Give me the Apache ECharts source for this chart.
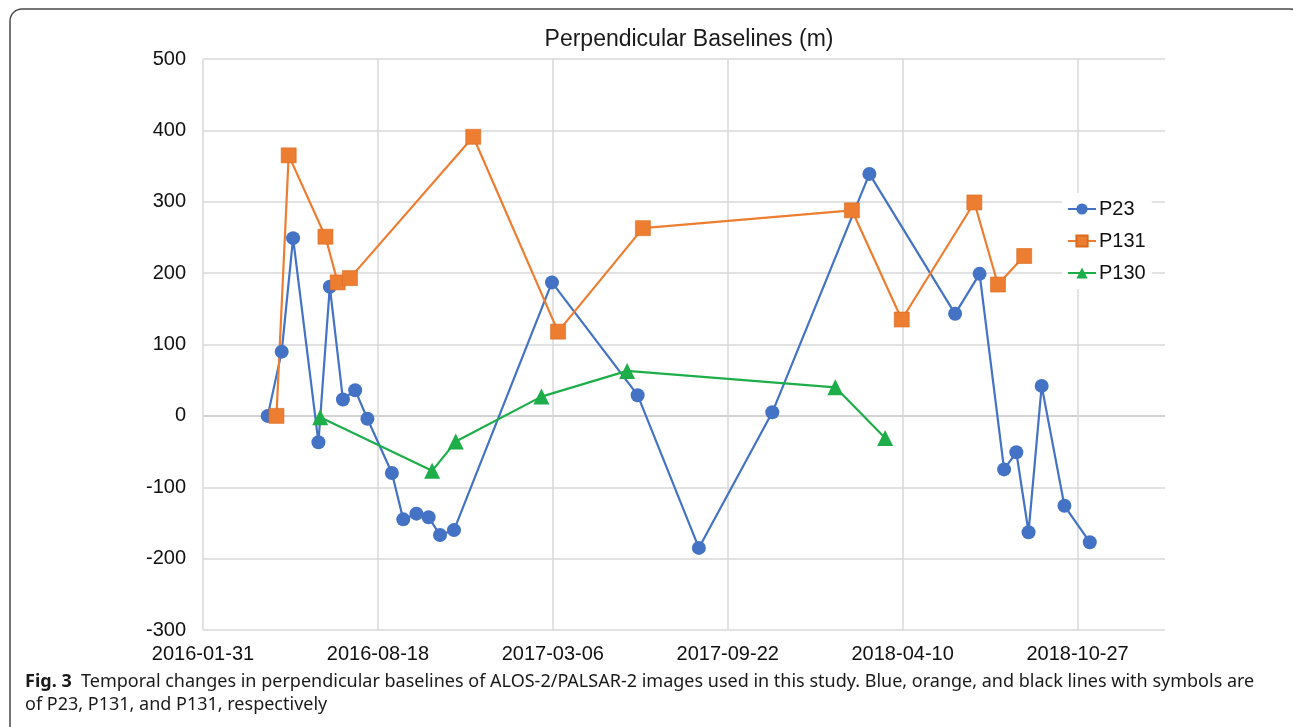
<!DOCTYPE html>
<html>
<head>
<meta charset="utf-8">
<script src="https://cdn.jsdelivr.net/npm/echarts@6/dist/echarts.min.js"></script>
<style>
  html, body { margin: 0; padding: 0; background: #fff; }
  #chart { width: 1293px; height: 727px; }
</style>
</head>
<body>
<div id="chart"></div>
<script>
// acquisition dates and perpendicular baselines (m)
const p23Dates = ['2016-04-14', '2016-04-30', '2016-05-13', '2016-06-11', '2016-06-24', '2016-07-09',
  '2016-07-23', '2016-08-06', '2016-09-03', '2016-09-16', '2016-10-01', '2016-10-15', '2016-10-28',
  '2016-11-13', '2017-03-05', '2017-06-11', '2017-08-20', '2017-11-12', '2018-03-03', '2018-06-09',
  '2018-07-07', '2018-08-04', '2018-08-18', '2018-09-01', '2018-09-16', '2018-10-12', '2018-11-10']
const p23Values = [0, 90, 249, -37, 181, 23, 36, -4, -80, -145, -137, -142, -167, -160, 187, 29, -185, 5,
  339, 143, 199, -75, -51, -163, 42, -126, -177]

const p131Dates = ['2016-04-24', '2016-05-08', '2016-06-19', '2016-07-03', '2016-07-17', '2016-12-05',
  '2017-03-12', '2017-06-17', '2018-02-11', '2018-04-09', '2018-07-01', '2018-07-28', '2018-08-27']
const p131Values = [0, 365, 251, 187, 193, 391, 118, 263, 288, 135, 299, 184, 224]

const p130Dates = ['2016-06-13', '2016-10-19', '2016-11-15', '2017-02-21', '2017-05-30', '2018-01-23', '2018-03-21']
const p130Values = [-2, -77, -36, 27, 63, 40, -31]

// x axis runs in days counted from the first tick date
const startDate = '2016-01-31'
const xTickStep = 200
const xMaxDays = 1100
const yTicks = [-300, -200, -100, 0, 100, 200, 300, 400, 500]

const DAY = 86400000
function toUTC(s) {
  const p = s.split('-').map(Number)
  return Date.UTC(p[0], p[1] - 1, p[2])
}
const t0 = toUTC(startDate)
function dayOffset(s) { return Math.round((toUTC(s) - t0) / DAY) }
function dayLabel(v) {
  if (v % xTickStep !== 0) return ''
  return new Date(t0 + v * DAY).toISOString().slice(0, 10)
}
function pairs(dates, values) {
  return dates.map((d, i) => [dayOffset(d), values[i]])
}

// split line colours: last x line (axis end) hidden, zero line a bit darker
const xSplitColors = []
for (let v = 0; v <= xMaxDays; v += xTickStep) xSplitColors.push('#d9d9d9')
if (xMaxDays % xTickStep !== 0) xSplitColors.push('rgba(0,0,0,0)')
const ySplitColors = yTicks.map(v => v === 0 ? '#c4c4c4' : '#d9d9d9')

const chart = echarts.init(document.getElementById('chart'))

const font = 'Liberation Sans, Arial, sans-serif'
const capFont = 'Noto Sans, sans-serif'

const option = {
  backgroundColor: '#fff',
  animation: false,
  title: {
    text: 'Perpendicular Baselines (m)',
    left: 684,
    top: 23,
    textAlign: 'center',
    textStyle: { fontFamily: font, fontSize: 23, fontWeight: 'normal', color: '#1a1a1a' }
  },
  legend: {
    orient: 'vertical',
    left: 1062,
    top: 193,
    padding: [6, 6, 6, 5],
    itemWidth: 28,
    itemHeight: 14,
    itemGap: 12,
    backgroundColor: '#fff',
    textStyle: { fontFamily: font, fontSize: 20, color: '#111', padding: [0, 0, 0, -2] },
    data: ['P23', 'P131', 'P130']
  },
  grid: { left: 203, right: 128, top: 59, bottom: 97, containLabel: false },
  xAxis: {
    type: 'value',
    min: 0,
    max: xMaxDays,
    interval: xTickStep,
    axisLine: { show: false },
    axisTick: { show: false },
    axisLabel: {
      margin: 14,
      fontFamily: font,
      fontSize: 20,
      color: '#111',
      formatter: dayLabel
    },
    splitLine: { show: true, lineStyle: { color: xSplitColors, width: 1.5 } }
  },
  yAxis: {
    type: 'value',
    min: yTicks[0],
    max: yTicks[yTicks.length - 1],
    interval: 100,
    axisLine: { show: false },
    axisTick: { show: false },
    axisLabel: { margin: 17, fontFamily: font, fontSize: 20, color: '#111' },
    splitLine: { show: true, lineStyle: { color: ySplitColors, width: 1.5 } }
  },
  series: [
    {
      name: 'P23',
      type: 'line',
      data: pairs(p23Dates, p23Values),
      symbol: 'circle',
      symbolSize: 14,
      color: '#4472C4',
      lineStyle: { width: 2.2, color: '#4472C4' },
      itemStyle: { color: '#4472C4' }
    },
    {
      name: 'P131',
      type: 'line',
      data: pairs(p131Dates, p131Values),
      symbol: 'rect',
      symbolSize: 15,
      color: '#ED7D31',
      lineStyle: { width: 2.2, color: '#ED7D31' },
      itemStyle: { color: '#ED7D31', borderColor: '#d96a20', borderWidth: 0.6 }
    },
    {
      name: 'P130',
      type: 'line',
      data: pairs(p130Dates, p130Values),
      symbol: 'triangle',
      symbolSize: 16,
      color: '#1DAE4A',
      lineStyle: { width: 2.2, color: '#1DAE4A' },
      itemStyle: { color: '#1DAE4A' }
    }
  ],
  graphic: [
    {
      type: 'rect',
      shape: { x: 10, y: 9, width: 1292, height: 760, r: 12 },
      style: { fill: 'none', stroke: '#4a4a4a', lineWidth: 1.5 },
      silent: true,
      z: 100
    },
    {
      type: 'text',
      left: 25,
      top: 673,
      style: {
        text: '{b|Fig. 3}  Temporal changes in perpendicular baselines of ALOS-2/PALSAR-2 images used in this study. Blue, orange, and black lines with symbols are',
        rich: {
          b: { fontFamily: capFont, fontSize: 18, fontWeight: 'bold', fill: '#1a1a1a' }
        },
        fontFamily: capFont,
        fontSize: 18,
        fill: '#1a1a1a'
      }
    },
    {
      type: 'text',
      left: 25,
      top: 696,
      style: {
        text: 'of P23, P131, and P131, respectively',
        fontFamily: capFont,
        fontSize: 18,
        fill: '#1a1a1a'
      }
    }
  ]
}

chart.setOption(option)
</script>
</body>
</html>
